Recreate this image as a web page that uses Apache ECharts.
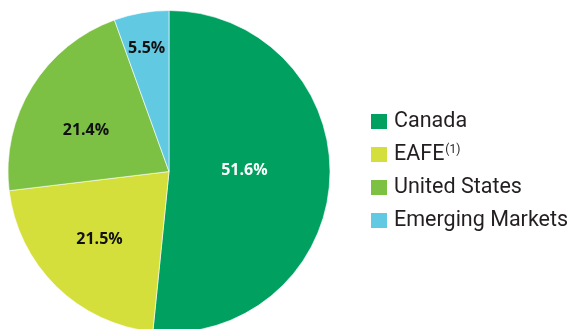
<!DOCTYPE html>
<html>
<head>
<meta charset="utf-8">
<script src="https://cdn.jsdelivr.net/npm/echarts@6/dist/echarts.min.js"></script>
<style>
  html, body { margin: 0; padding: 0; background: #fff; }
  #chart { width: 569px; height: 329px; }
</style>
</head>
<body>
<div id="chart"></div>
<script>
// Asset mix by region (percent of portfolio)
const regions = ['Canada', 'EAFE', 'United States', 'Emerging Markets'];
const weights = [51.6, 21.5, 21.4, 5.5];
const sliceColors = ['#00a160', '#d5df3b', '#7cc143', '#62c9e3'];
const labelColors = ['#ffffff', '#111111', '#111111', '#111111'];
// nudges for the in-slice percentage labels
const labelShift = [[-8, -5], [-11, 8], [-12, 3], [-8, -41]];

const chart = echarts.init(document.getElementById('chart'), null, { renderer: 'canvas' });

chart.setOption({
  backgroundColor: '#ffffff',
  animation: false,
  legend: {
    orient: 'vertical',
    left: 364,
    top: 105.5,
    itemWidth: 18,
    itemHeight: 17,
    itemGap: 11,
    icon: 'rect',
    textStyle: {
      fontFamily: 'Roboto',
      fontSize: 21.5,
      color: '#231f20',
      lineHeight: 21,
      padding: [0, 0, 0, 1],
      rich: {
        sup: { fontFamily: 'Roboto', fontSize: 12, color: '#231f20', padding: [0, 0, 10, 1] }
      }
    },
    formatter: function (name) {
      return name === 'EAFE' ? 'EAFE{sup|(1)}' : name;
    },
    data: regions
  },
  series: [{
    type: 'pie',
    center: [169, 171.5],
    radius: [0, 161],
    startAngle: 90,
    clockwise: true,
    avoidLabelOverlap: false,
    itemStyle: { borderColor: '#ffffff', borderWidth: 0.6 },
    label: {
      show: true,
      position: 'inner',
      fontFamily: 'Open Sans',
      fontWeight: 'bold',
      fontSize: 16,
      formatter: function (p) { return p.value.toFixed(1) + '%'; }
    },
    labelLine: { show: false },
    labelLayout: function (p) {
      const s = labelShift[p.dataIndex];
      return { dx: s[0], dy: s[1] };
    },
    emphasis: { disabled: true },
    data: regions.map(function (name, i) {
      return {
        name: name,
        value: weights[i],
        itemStyle: { color: sliceColors[i] },
        label: { color: labelColors[i] }
      };
    })
  }]
});
</script>
</body>
</html>
